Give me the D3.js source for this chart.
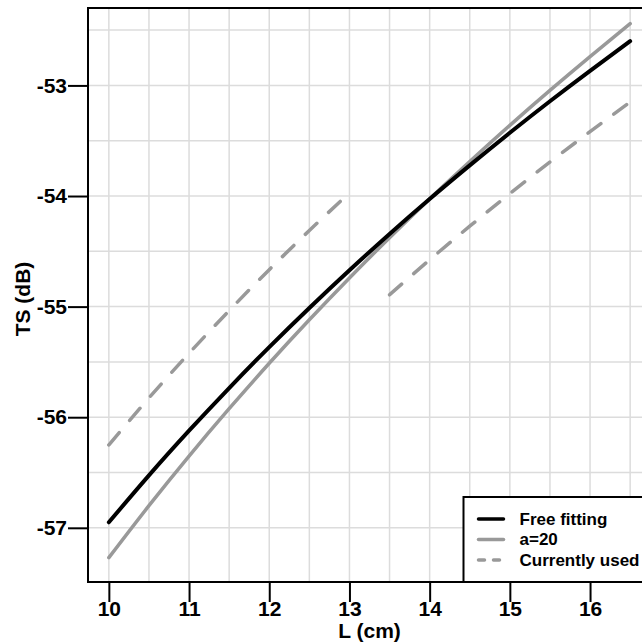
<!DOCTYPE html>
<html>
<head>
<meta charset="utf-8">
<script src="https://cdn.jsdelivr.net/npm/d3@7/dist/d3.min.js"></script>
<style>
  html, body { margin: 0; padding: 0; background: #fff; }
  svg { display: block; font-family: "Liberation Sans", Arial, sans-serif; font-weight: bold; }
</style>
</head>
<body>
<div class="container"></div>
<script>
(function(d3) {
  "use strict";

  // fish length (cm) at which the curves were read
  var lengths = [10, 10.5, 11, 11.5, 12, 12.5, 13, 13.5, 14, 14.5, 15, 15.5, 16, 16.5];

  var freeFitTS = [-56.950, -56.526, -56.122, -55.736, -55.366, -55.012, -54.671,
                   -54.343, -54.027, -53.723, -53.428, -53.143, -52.868, -52.600];

  var a20TS = [-57.270, -56.800, -56.351, -55.923, -55.512, -55.119, -54.741,
               -54.377, -54.026, -53.688, -53.361, -53.045, -52.739, -52.442];

  // "currently used" comes in two pieces
  var usedLowL = [10, 10.5, 11, 11.5, 12, 12.5, 13];
  var usedLowTS = [-56.250, -55.826, -55.422, -55.036, -54.666, -54.312, -53.971];
  var usedHighL = [13.5, 14, 14.5, 15, 15.5, 16, 16.5];
  var usedHighTS = [-54.893, -54.577, -54.273, -53.978, -53.693, -53.418, -53.150];

  var xTicks = [10, 11, 12, 13, 14, 15, 16];
  var yTicks = [-57, -56, -55, -54, -53];
  var legendLabels = ["Free fitting", "a=20", "Currently used"];

  var width = 642, height = 644;
  var left = 88, top = 8, right = 651, bottom = 582;
  var grey = "#999999";

  var x = d3.scaleLinear().domain([9.74, 16.76]).range([left, right]);
  var y = d3.scaleLinear().domain([-57.49, -52.30]).range([bottom, top]);

  var svg = d3.select(".container").append("svg")
      .attr("width", width)
      .attr("height", height);

  // grid every half unit
  var gx = d3.range(10, 16.51, 0.5);
  var gy = d3.range(-57, -52.49, 0.5);

  var grid = svg.append("g").attr("class", "grid");
  grid.selectAll(".vgrid")
      .data(gx)
    .enter().append("line")
      .attr("x1", function(d) { return x(d); })
      .attr("x2", function(d) { return x(d); })
      .attr("y1", top)
      .attr("y2", bottom)
      .style("stroke", "#dcdcdc")
      .style("stroke-width", 1.5);
  grid.selectAll(".hgrid")
      .data(gy)
    .enter().append("line")
      .attr("x1", left)
      .attr("x2", right)
      .attr("y1", function(d) { return y(d); })
      .attr("y2", function(d) { return y(d); })
      .style("stroke", "#dcdcdc")
      .style("stroke-width", 1.5);

  function pairs(xs, ys) {
    return xs.map(function(v, i) { return [v, ys[i]]; });
  }

  var line = d3.line()
      .curve(d3.curveNatural)
      .x(function(d) { return x(d[0]); })
      .y(function(d) { return y(d[1]); });

  var curves = svg.append("g").attr("class", "curves")
      .style("fill", "none")
      .style("stroke-linecap", "round");

  curves.append("path")
      .attr("d", line(pairs(usedLowL, usedLowTS)))
      .style("stroke", grey)
      .style("stroke-width", 3.5)
      .style("stroke-dasharray", "16,16");
  curves.append("path")
      .attr("d", line(pairs(usedHighL, usedHighTS)))
      .style("stroke", grey)
      .style("stroke-width", 3.5)
      .style("stroke-dasharray", "16,16");
  curves.append("path")
      .attr("d", line(pairs(lengths, a20TS)))
      .style("stroke", grey)
      .style("stroke-width", 3.5);
  curves.append("path")
      .attr("d", line(pairs(lengths, freeFitTS)))
      .style("stroke", "#000")
      .style("stroke-width", 4);

  // axes
  var yAxis = d3.axisLeft(y)
      .tickValues(yTicks)
      .tickSize(20)
      .tickPadding(1)
      .tickFormat(function(d) { return String(d); });
  var xAxis = d3.axisBottom(x)
      .tickValues(xTicks)
      .tickSize(20)
      .tickPadding(0)
      .tickFormat(function(d) { return String(d); });

  var ya = svg.append("g")
      .attr("transform", svgTranslateString(left, 0))
      .call(yAxis);
  var xa = svg.append("g")
      .attr("transform", svgTranslateString(0, bottom))
      .call(xAxis);

  [ya, xa].forEach(function(a) {
    a.select(".domain").remove();
    a.selectAll("line").style("stroke", "#000").style("stroke-width", 2);
    a.selectAll("text")
        .style("font-size", "21px")
        .style("font-weight", "bold")
        .style("font-family", "'Liberation Sans', Arial, sans-serif")
        .style("fill", "#000");
  });
  xa.selectAll("text").attr("dy", "0.68em");

  // plot frame
  svg.append("rect")
      .attr("x", left)
      .attr("y", top)
      .attr("width", right - left)
      .attr("height", bottom - top)
      .style("fill", "none")
      .style("stroke", "#000")
      .style("stroke-width", 2);

  // axis titles
  svg.append("text")
      .attr("x", (left + right) / 2)
      .attr("y", 638)
      .attr("text-anchor", "middle")
      .style("font-size", "21px")
    .text("L (cm)");

  svg.append("text")
      .attr("transform", svgTranslateString(30, (top + bottom) / 2 + 4) + " rotate(-90)")
      .attr("text-anchor", "middle")
      .style("font-size", "21px")
    .text("TS (dB)");

  // legend
  var legend = svg.append("g")
      .attr("class", "legend")
      .attr("transform", svgTranslateString(463.5, 497));

  legend.append("rect")
      .attr("width", 220)
      .attr("height", bottom - 497)
      .style("fill", "#fff")
      .style("stroke", "#000")
      .style("stroke-width", 2);

  var styles = [
    { color: "#000", dash: null, w: 3.5 },
    { color: grey, dash: null, w: 3.5 },
    { color: grey, dash: "6,9", w: 3.5 }
  ];

  var rows = legend.selectAll(".row")
      .data(legendLabels)
    .enter().append("g")
      .attr("transform", function(d, i) {
        return svgTranslateString(0, 22 + i * 20.5);
      });

  rows.append("line")
      .attr("x1", 15)
      .attr("x2", 40)
      .style("stroke", function(d, i) { return styles[i].color; })
      .style("stroke-width", function(d, i) { return styles[i].w; })
      .style("stroke-linecap", "round")
      .style("stroke-dasharray", function(d, i) { return styles[i].dash; });

  rows.append("text")
      .attr("x", 56)
      .attr("dy", "0.35em")
      .style("font-size", "17px")
    .text(function(d) { return d; });

  function svgTranslateString(tx, ty) {
    return "translate(" + tx + "," + ty + ")";
  }

}(d3));
</script>
</body>
</html>
